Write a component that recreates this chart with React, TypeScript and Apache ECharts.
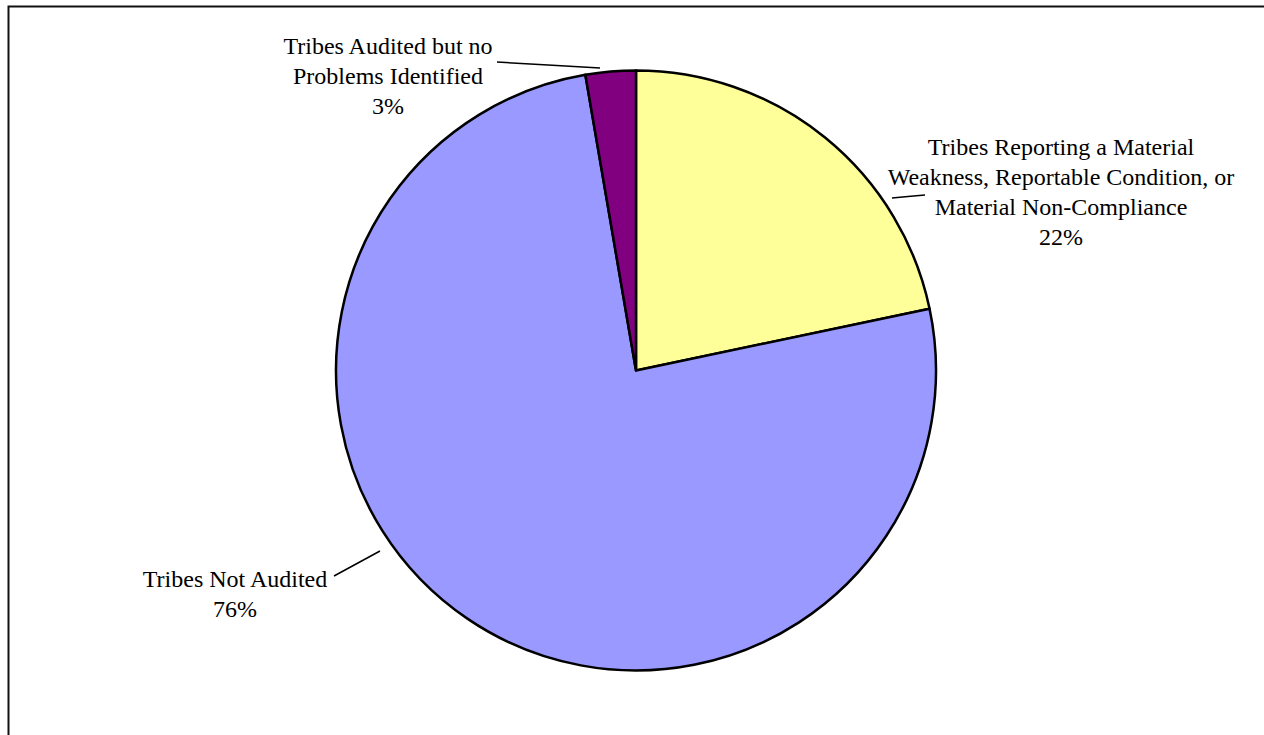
import React, { useEffect, useRef } from "react";
import * as echarts from "echarts";

const categories = [
  "Tribes Reporting a Material\nWeakness, Reportable Condition, or\nMaterial Non-Compliance",
  "Tribes Not Audited",
  "Tribes Audited but no\nProblems Identified",
];
const values = [21.7, 75.6, 2.7];
const sliceColors = ["#FFFF99", "#9999FF", "#800080"];

// label placement (text block centres) and leader lines
const labelCentres = [
  [1061, 192],
  [235, 594],
  [388, 76],
];
const leaderLines = [
  [[925, 195], [908, 196.5], [892, 198]],
  [[380, 551], [357, 563.5], [334, 576]],
  [[600, 68], [548, 65], [497, 62]],
];

export default function App() {
  const ref = useRef<HTMLDivElement>(null);
  useEffect(() => {
    if (!ref.current) return;
    const chart = echarts.init(ref.current, undefined, { renderer: "svg" });
    chart.setOption({
      animation: false,
      backgroundColor: "#ffffff",
      graphic: [
        {
          type: "rect",
          shape: { x: 8.5, y: 6.5, width: 1400, height: 900 },
          style: { fill: "none", stroke: "#111", lineWidth: 2 },
          silent: true,
        },
      ],
      series: [
        {
          type: "pie",
          center: [636, 370.5],
          radius: 300,
          startAngle: 90,
          clockwise: true,
          percentPrecision: 2,
          avoidLabelOverlap: false,
          data: categories.map((name, i) => ({
            name,
            value: values[i],
            itemStyle: { color: sliceColors[i] },
          })),
          itemStyle: { borderColor: "#000", borderWidth: 2.5 },
          label: {
            show: true,
            position: "outside",
            formatter: (p: any) => `${p.name}\n${Math.round(p.percent)}%`,
            fontFamily: "Liberation Serif",
            fontSize: 24,
            lineHeight: 30,
            color: "#000",
            align: "center",
          },
          labelLine: {
            show: true,
            length: 10,
            length2: 0,
            smooth: false,
            lineStyle: { color: "#000", width: 1.5 },
          },
          labelLayout: (params: any) => {
            const i = params.dataIndex;
            return {
              x: labelCentres[i][0],
              y: labelCentres[i][1],
              align: "center",
              verticalAlign: "middle",
              labelLinePoints: leaderLines[i],
            };
          },
          emphasis: { disabled: true },
        },
      ],
    });
    return () => chart.dispose();
  }, []);
  return (
    <div
      ref={ref}
      style={{ position: "absolute", left: 0, top: 0, width: 1264, height: 735 }}
    />
  );
}
